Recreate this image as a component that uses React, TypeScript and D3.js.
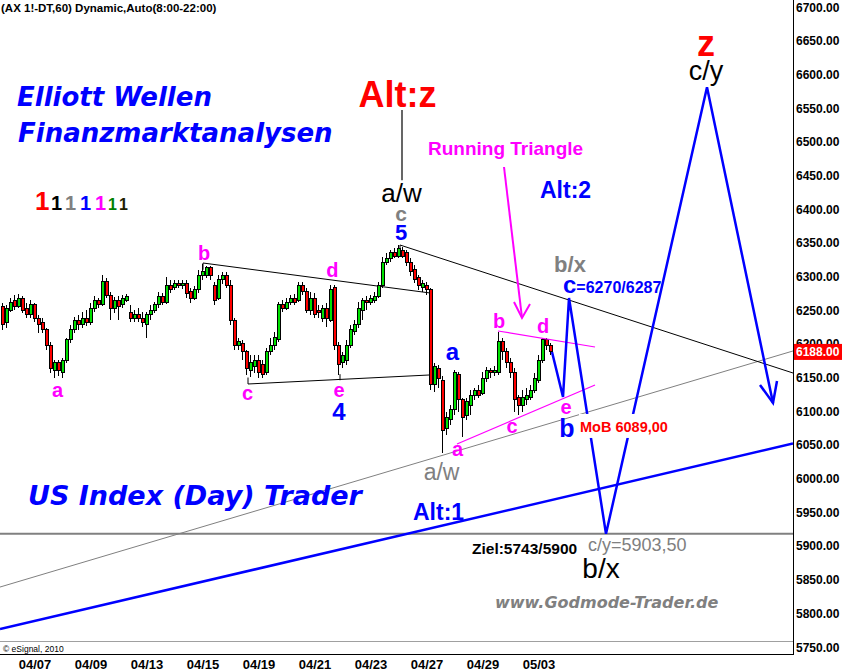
import React from "react";
import * as d3 from "d3";

const W = 842;
const H = 671;

// hourly candles, 04/06 (late) .. 05/03
const opens = [6255,6232,6250,6265,6256,6268,6253,6243,6258,6238,6232,6221,6198,6161,6172,6158,6176,6206,6221,6235,6228,6238,6232,6253,6265,6258,6292,6272,6253,6265,6258,6265,6247,6238,6244,6238,6228,6243,6250,6258,6270,6262,6287,6283,6290,6286,6290,6277,6268,6280,6302,6302,6313,6287,6268,6295,6302,6287,6235,6198,6201,6188,6161,6166,6176,6169,6158,6188,6198,6206,6258,6253,6261,6268,6265,6287,6277,6250,6268,6250,6238,6253,6235,6284,6198,6173,6176,6198,6218,6228,6250,6265,6261,6265,6271,6287,6321,6327,6335,6330,6339,6336,6321,6310,6298,6284,6287,6280,6139,6164,6146,6075,6087,6102,6154,6117,6094,6109,6124,6131,6127,6149,6161,6157,6158,6203,6188,6173,6158,6120,6109,6117,6121,6131,6146,6176,6206,6198];
const highs = [6261,6258,6268,6272,6274,6271,6261,6265,6261,6243,6238,6223,6203,6176,6176,6179,6209,6228,6240,6243,6247,6250,6261,6271,6268,6302,6298,6277,6270,6271,6272,6274,6258,6250,6253,6247,6247,6258,6262,6277,6275,6299,6295,6295,6295,6295,6295,6283,6286,6310,6318,6316,6316,6292,6302,6307,6307,6295,6238,6209,6206,6191,6183,6183,6183,6176,6194,6209,6218,6262,6265,6268,6272,6274,6292,6292,6283,6277,6275,6258,6258,6261,6287,6287,6203,6188,6206,6228,6235,6262,6268,6271,6272,6277,6292,6329,6335,6339,6342,6347,6344,6339,6327,6317,6302,6295,6292,6283,6172,6169,6152,6099,6109,6161,6158,6120,6120,6131,6134,6139,6158,6166,6164,6167,6218,6209,6194,6179,6164,6124,6131,6134,6139,6157,6183,6209,6209,6201];
const lows = [6221,6223,6247,6250,6253,6246,6238,6238,6232,6216,6216,6191,6157,6149,6152,6149,6172,6201,6216,6221,6223,6226,6228,6247,6253,6256,6268,6235,6246,6235,6253,6262,6232,6232,6232,6225,6209,6235,6246,6253,6258,6259,6275,6280,6283,6281,6268,6261,6265,6275,6295,6298,6295,6258,6265,6289,6283,6228,6191,6191,6176,6154,6151,6157,6149,6149,6154,6183,6191,6203,6247,6250,6258,6258,6262,6272,6246,6243,6238,6238,6232,6225,6232,6191,6154,6164,6169,6194,6213,6223,6235,6250,6258,6261,6268,6283,6317,6321,6327,6327,6327,6316,6301,6290,6280,6277,6272,6131,6128,6134,6038,6065,6080,6094,6099,6062,6087,6094,6117,6120,6124,6143,6149,6152,6154,6176,6164,6149,6099,6094,6099,6109,6117,6127,6142,6172,6191,6183];
const closes = [6228,6253,6262,6256,6268,6250,6243,6258,6238,6228,6221,6198,6164,6172,6161,6176,6206,6221,6235,6228,6238,6232,6253,6265,6258,6292,6272,6253,6265,6256,6268,6270,6238,6244,6238,6231,6243,6250,6258,6270,6262,6287,6280,6290,6286,6290,6275,6268,6280,6302,6307,6313,6302,6265,6295,6302,6287,6235,6198,6203,6188,6164,6173,6176,6158,6154,6188,6198,6209,6258,6253,6261,6268,6262,6287,6277,6250,6268,6243,6247,6253,6238,6280,6198,6169,6183,6198,6221,6228,6253,6265,6261,6268,6271,6287,6321,6327,6335,6330,6342,6330,6321,6307,6295,6287,6290,6280,6139,6166,6149,6072,6090,6102,6157,6117,6090,6114,6124,6131,6124,6149,6161,6157,6161,6203,6188,6173,6158,6117,6109,6120,6124,6131,6149,6176,6206,6198,6188];

const dateLabels = ["04/07","04/09","04/13","04/15","04/19","04/21","04/23","04/27","04/29","05/03"];
const dateTickIndex = [8.25,22.25,36.25,50.25,64.25,78.25,92.25,106.25,120.25,134.25];
const priceTicks = [6700,6650,6600,6550,6500,6450,6400,6350,6300,6250,6200,6150,6100,6050,6000,5950,5900,5850,5800,5750];
const lastPrice = 6188;

// drawn lines: [bar index, price]
const triUpper = [[50.25, 6320],[107, 6275.5]];
const triLower = [[61.5, 6140.4],[107, 6153.8]];
const triTicks = [[[50.25, 6320],[50.25, 6310]],[[61.5, 6150],[61.5, 6140.4]],[[84.5, 6155],[84.5, 6146]],[[99.5, 6346.7],[99.5, 6340]]];
const longResist = [[99.5, 6346.7],[197.75, 6156.7]];
const altzStem = [[100, 6547],[100, 6443]];
const grayTrend = [[-0.5, 5839],[197.75, 6189.4]];
const blueTrend = [[-0.5, 5776.7],[197.75, 6052]];
const zielLevel = 5918;
const runUpper = [[124, 6219.1],[148.25, 6195.3]];
const runLower = [[113.75, 6051.3],[148.25, 6138.9]];
const runArrow = [[125.5, 6462.5],[130, 6238.4]];
const runArrowHead = [[128, 6262],[130, 6238.4],[132, 6259]];
const forecast = [[137.5, 6188],[140.25, 6121.1],[141.75, 6268],[151, 5918],[176.25, 6581],[192.75, 6112.2]];
const forecastHead = [[189.5, 6139],[192.75, 6112.2],[193.75, 6144.8]];

const MAG = "#ff00ff";
const BLUE = "#0000ff";
const GRAY = "#808080";
const RED = "#ff0000";

// wave labels: text, bar index, price (baseline), colour, size, weight, anchor
const waveText = ["a","b","c","d","e","4","5","c","a/w","Alt:z","a","a","a/w","b","c","d","e","b","b/x","Alt:2","z","c/y","Alt:1","b/x"];
const waveIdx = [13.9,50.5,61.4,82.6,84.25,84.25,99.75,99.75,99.9,98.9,112.6,113.9,109.9,124.25,127.5,135.25,141,141.25,142,134.5,176,176,102.75,149.75];
const wavePrice = [6121,6324.5,6116.6,6299.2,6121.1,6087,6354.1,6382,6410,6551.6,6176,6033.5,5998.4,6223.5,6067.7,6216.1,6095.8,6061.7,6307,6416.5,6627.3,6591.7,5938.5,5852.4];
const waveColor = [MAG,MAG,MAG,MAG,MAG,BLUE,BLUE,GRAY,"#000",RED,BLUE,MAG,GRAY,MAG,MAG,MAG,MAG,BLUE,GRAY,BLUE,RED,"#000",BLUE,"#000"];
const waveSize = [20,20,20,20,20,24,22,21,26,36,24,20,23,20,20,20,20,25,22,23,36,27,23,28];
const waveBold = [1,1,1,1,1,1,1,1,0,1,1,1,0,1,1,1,1,1,1,1,1,0,1,0];
const waveAnchor = ["m","m","m","m","m","m","m","m","m","m","m","m","m","m","m","m","m","m","m","s","m","m","s","m"];

const legendColors = [RED,"#000",GRAY,BLUE,MAG,"#008000","#202000"];
const legendSizes = [26,20,20,20,20,16,16];

const FONT = "'Liberation Sans', Arial, sans-serif";
const TITLE_FONT = "'DejaVu Sans', Verdana, sans-serif";

export default function App() {
  const x = d3.scaleLinear().domain([0, 137]).range([2, 550]);
  const y = d3.scaleLinear().domain([5750, 6700]).range([647, 7]);
  const line = d3.line<number[]>().x((d) => x(d[0])).y((d) => y(d[1]));
  const plotRight = 793;

  const bars = opens.map((o, i) => ({ o, h: highs[i], l: lows[i], c: closes[i], i }));

  return (
    <svg width={W} height={H} style={{ position: "absolute", left: 0, top: 0, background: "#fff" }} fontFamily={FONT}>
      <rect x={0} y={0} width={W} height={H} fill="#fff" />
      <defs>
        <clipPath id="plot"><rect x={0} y={0} width={plotRight} height={654} /></clipPath>
      </defs>

      {/* header */}
      <text x={1} y={12} fontSize={11.5} fontWeight="bold" fill="#000">(AX 1!-DT,60) Dynamic,Auto(8:00-22:00)</text>

      <g clipPath="url(#plot)">
        {/* support / resistance lines */}
        <line x1={0} x2={plotRight} y1={y(zielLevel)} y2={y(zielLevel)} stroke={GRAY} strokeWidth={2} />
        <path d={line(grayTrend as any) || ""} stroke={GRAY} strokeWidth={1} fill="none" />
        <path d={line(blueTrend as any) || ""} stroke={BLUE} strokeWidth={2.5} fill="none" />
        <path d={line(longResist as any) || ""} stroke="#000" strokeWidth={1} fill="none" />
        <path d={line(triUpper as any) || ""} stroke="#000" strokeWidth={1} fill="none" />
        <path d={line(triLower as any) || ""} stroke="#000" strokeWidth={1} fill="none" />
        {triTicks.map((t, k) => (
          <path key={k} d={line(t as any) || ""} stroke="#000" strokeWidth={1} fill="none" />
        ))}
        <path d={line(altzStem as any) || ""} stroke="#000" strokeWidth={1.2} fill="none" />

        {/* candles */}
        <g shapeRendering="crispEdges">
          {bars.map((b) => {
            const cx = x(b.i);
            const top = y(Math.max(b.o, b.c));
            const bot = y(Math.min(b.o, b.c));
            return (
              <g key={b.i}>
                <line x1={cx + 0.5} x2={cx + 0.5} y1={y(b.h)} y2={y(b.l)} stroke="#000" strokeWidth={1} />
                <rect x={cx - 1} y={top} width={3} height={Math.max(1, bot - top)}
                  fill={b.c >= b.o ? "#00e000" : "#ff0000"} stroke="#000" strokeWidth={1} />
              </g>
            );
          })}
        </g>

        {/* running triangle */}
        <path d={line(runUpper as any) || ""} stroke={MAG} strokeWidth={1.2} fill="none" />
        <path d={line(runLower as any) || ""} stroke={MAG} strokeWidth={1.2} fill="none" />
        <path d={line(runArrow as any) || ""} stroke={MAG} strokeWidth={2} fill="none" />
        <path d={line(runArrowHead as any) || ""} stroke={MAG} strokeWidth={2} fill="none" />

        {/* forecast path */}
        <path d={line(forecast as any) || ""} stroke={BLUE} strokeWidth={2.5} fill="none" strokeLinejoin="miter" />
        <path d={line(forecastHead as any) || ""} stroke={BLUE} strokeWidth={2.5} fill="none" />
      </g>

      {/* titles */}
      <g fontFamily={TITLE_FONT} fontWeight="bold" fontStyle="italic" fill={BLUE}>
        <text x={17} y={106} fontSize={26}>Elliott Wellen</text>
        <text x={18} y={142} fontSize={26}>Finanzmarktanalysen</text>
        <text x={28} y={505} fontSize={27}>US Index (Day) Trader</text>
      </g>

      {/* colour legend */}
      <g fontWeight="bold">
        {legendColors.map((c, k) => (
          <text key={k} x={35 + [0, 16, 30, 45, 60, 73, 84][k]} y={210} fontSize={legendSizes[k]} fill={c}>1</text>
        ))}
      </g>

      {/* wave labels */}
      {waveText.map((t, k) => (
        <text key={k} x={x(waveIdx[k])} y={y(wavePrice[k])} fill={waveColor[k]} fontSize={waveSize[k]}
          fontWeight={waveBold[k] ? "bold" : "normal"} textAnchor={waveAnchor[k] === "m" ? "middle" : "start"}>{t}</text>
      ))}

      <text x={x(106.5)} y={y(6480.3)} fill={MAG} fontSize={19} fontWeight="bold">Running Triangle</text>
      <text x={x(140.25)} y={y(6276)} fill={BLUE} fontWeight="bold">
        <tspan fontSize={24}>c</tspan><tspan fontSize={16}>=6270/6287</tspan>
      </text>
      <rect x={x(144.5) - 1} y={y(6069.2) - 18} width={91} height={24} fill="#fff" />
      <text x={x(144.5)} y={y(6069.2)} fill={RED} fontSize={14.5} fontWeight="bold">MoB 6089,00</text>
      <text x={x(117.5)} y={y(5888)} fill="#000" fontSize={15.5} fontWeight="bold">Ziel:5743/5900</text>
      <text x={x(146.5)} y={y(5892.5)} fill={GRAY} fontSize={18}>c/y=5903,50</text>

      <text x={495} y={608} fill={GRAY} fontFamily={TITLE_FONT} fontStyle="italic" fontWeight="bold" fontSize={16}>www.Godmode-Trader.de</text>

      {/* frame */}
      <line x1={0} x2={plotRight} y1={641.5} y2={641.5} stroke="#a0a0a0" strokeWidth={1} />
      <line x1={0} x2={plotRight} y1={654.5} y2={654.5} stroke="#000" strokeWidth={1} />
      <line x1={plotRight + 0.5} x2={plotRight + 0.5} y1={0} y2={655} stroke="#000" strokeWidth={1} />
      <text x={3} y={652} fontSize={8.5} fill="#000">© eSignal, 2010</text>

      {/* price axis */}
      {priceTicks.map((p) => (
        <text key={p} x={796} y={y(p) + 4.5} fontSize={12} fontWeight="bold" fill="#000">{p.toFixed(2)}</text>
      ))}
      <rect x={794} y={y(lastPrice) - 8} width={48} height={16} fill="#ff0000" />
      <text x={796} y={y(lastPrice) + 4.5} fontSize={12} fontWeight="bold" fill="#fff">{lastPrice.toFixed(2)}</text>

      {/* date axis */}
      {dateLabels.map((d, k) => (
        <text key={d} x={x(dateTickIndex[k])} y={669} fontSize={13} fontWeight="bold" textAnchor="middle"
          fill="#000" style={{ fontStretch: "condensed" }}>{d}</text>
      ))}
    </svg>
  );
}
